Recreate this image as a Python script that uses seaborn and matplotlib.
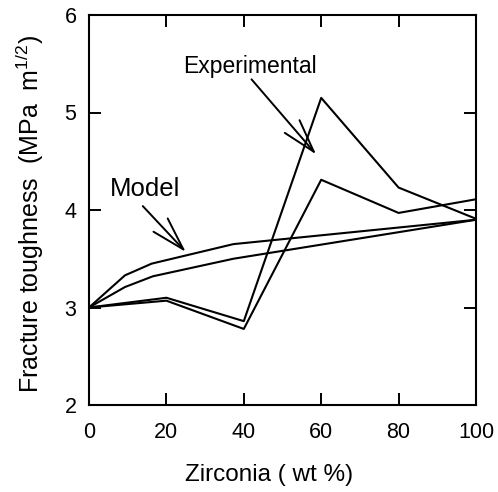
import numpy as np
import pandas as pd
import matplotlib
matplotlib.use('Agg')
import matplotlib.pyplot as plt
import seaborn as sns

# model curves (smooth) and experimental curves (zigzag)
model_hi_x = [0, 9.3, 16.2, 37.3, 100]
model_hi_y = [3.00, 3.33, 3.45, 3.65, 3.90]
model_lo_x = [0, 9.3, 16.5, 37.3, 100]
model_lo_y = [3.00, 3.21, 3.32, 3.50, 3.90]

exp_x = [0, 20, 40, 60, 80, 100]
exp_a_y = [3.00, 3.10, 2.86, 5.15, 4.23, 3.91]
exp_b_y = [3.00, 3.07, 2.78, 4.31, 3.97, 4.11]

xticks = [0, 20, 40, 60, 80, 100]
yticks = [2, 3, 4, 5, 6]

sns.set_style('ticks')
plt.rcParams['font.family'] = ['Liberation Sans', 'DejaVu Sans']
plt.rcParams['mathtext.default'] = 'regular'
plt.rcParams['text.color'] = 'black'
plt.rcParams['axes.labelcolor'] = 'black'
plt.rcParams['xtick.color'] = 'black'
plt.rcParams['ytick.color'] = 'black'

fig = plt.figure(figsize=(4.98, 4.92), dpi=100)
ax = fig.add_axes([89/498, 87/492, 387/498, 390/492])

frames = [
    pd.DataFrame({'x': model_hi_x, 'y': model_hi_y, 's': 'model_hi'}),
    pd.DataFrame({'x': model_lo_x, 'y': model_lo_y, 's': 'model_lo'}),
    pd.DataFrame({'x': exp_x, 'y': exp_a_y, 's': 'exp_a'}),
    pd.DataFrame({'x': exp_x, 'y': exp_b_y, 's': 'exp_b'}),
]
df = pd.concat(frames, ignore_index=True)

sns.lineplot(data=df, x='x', y='y', units='s', estimator=None, color='black',
             linewidth=1.5, ax=ax, legend=False)

ax.set_xlim(0, 100)
ax.set_ylim(2, 6)
ax.set_xticks(xticks)
ax.set_yticks(yticks)
ax.tick_params(direction='in', length=8.5, width=1.4, labelsize=15.5,
               top=True, right=True, pad=12, color='black', labelcolor='black')
ax.tick_params(axis='y', pad=9)
for sp in ax.spines.values():
    sp.set_linewidth(1.5)
    sp.set_color('black')

ax.set_xlabel('Zirconia ( wt %)', fontsize=17.5)
ax.set_ylabel('Fracture toughness  (MPa  m$^{1/2}$)', fontsize=18)
ax.xaxis.set_label_coords(0.465, -0.15)
ax.yaxis.set_label_coords(-0.11, 0.49)

arrow = dict(arrowstyle='->, head_length=2.4, head_width=0.7', color='black',
             linewidth=1.4, shrinkA=0, shrinkB=0, mutation_scale=10)
ax.annotate('', xy=(58.7, 4.57), xytext=(42.0, 5.34), arrowprops=arrow)
ax.annotate('', xy=(25.0, 3.57), xytext=(13.9, 4.04), arrowprops=arrow)
ax.text(24.4, 5.41, 'Experimental', fontsize=16.5, va='baseline', ha='left')
ax.text(5.4, 4.14, 'Model', fontsize=18.5, va='baseline', ha='left')

fig.savefig('out.png', dpi=100)
